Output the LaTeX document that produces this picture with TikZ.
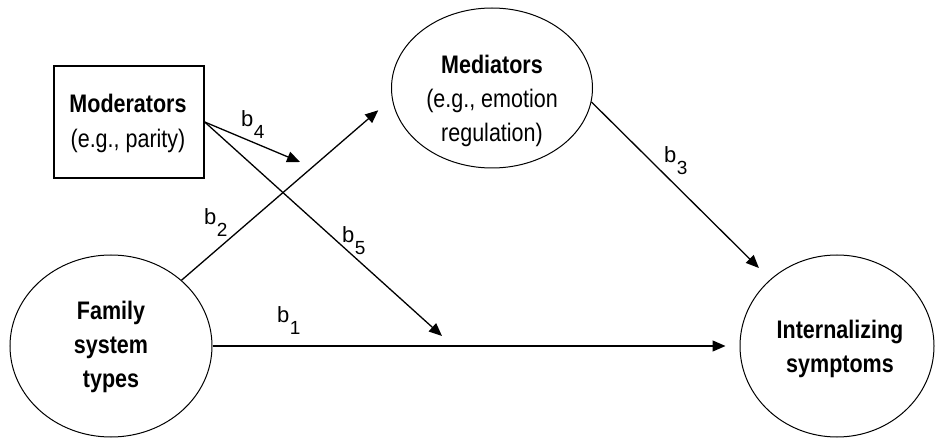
\documentclass[tikz,border=0pt]{standalone}
\usepackage{graphicx}
\usepackage{fontspec}
\setmainfont{Liberation Sans}
\usetikzlibrary{arrows.meta,shapes.geometric}
\newcommand\bsubl[1]{b\kern0.5pt\raisebox{-12pt}{\fontsize{19}{19}\selectfont #1}}
\newcommand\tallt[1]{\scalebox{1}[1.18]{#1}}
\tikzset{
  ell/.style={draw, ellipse, line width=1pt, inner sep=0pt},
  modbox/.style={draw, rectangle, line width=1.4pt, inner sep=0pt},
  lbl/.style={align=center, inner sep=0pt, font=\fontsize{21.5}{34}\selectfont},
  arr/.style={line width=1.3pt, -{Triangle[length=13pt,width=11pt]}},
  coef/.style={anchor=base west, inner sep=0pt, font=\fontsize{22}{22}\selectfont},
}
\begin{document}
\begin{tikzpicture}[x=1pt,y=-1pt]
\useasboundingbox (0,0) rectangle (935,438);
% shapes
\node[ell, minimum width=202pt, minimum height=182pt] (fam) at (111,346) {};
\node[ell, minimum width=194pt, minimum height=182pt] (int) at (837,346) {};
\node[ell, minimum width=201pt, minimum height=160pt] (med) at (492,88) {};
\node[modbox, minimum width=150pt, minimum height=112pt] (mod) at (129,122) {};
% texts
\node[lbl] (famt) at (111,346.5) {\tallt{\textbf{Family}}\\\tallt{\textbf{system}}\\\tallt{\textbf{types}}};
\node[lbl] (intt) at (840,348.5) {\tallt{\textbf{Internalizing}}\\\tallt{\textbf{symptoms}}};
\node[lbl] (medt) at (492,100.5) {\tallt{\textbf{Mediators}}\\\tallt{(e.g., emotion}\\\tallt{regulation)}};
\node[lbl, font=\fontsize{21.5}{35}\selectfont] (modt) at (128,123) {\tallt{\textbf{Moderators}}\\\tallt{(e.g., parity)}};
% free ends
\coordinate (b4end) at (300,162);
\coordinate (b5end) at (442,336);
% connectors
\draw[arr, shorten >=14pt] (fam.east) -- (int.west);
\draw[arr, shorten >=18pt] (fam.43) -- (med.186);
\draw[arr, shorten >=16pt] (med.-8) -- (int.135);
\draw[arr] (mod.east) -- (b4end);
\draw[arr] (mod.east) -- (b5end);
% coefficient labels
\node[coef] (l1) at (277,323) {\bsubl{1}};
\node[coef] (l2) at (204,225) {\bsubl{2}};
\node[coef] (l3) at (664,163) {\bsubl{3}};
\node[coef] (l4) at (241,127) {\bsubl{4}};
\node[coef] (l5) at (342,243) {\bsubl{5}};
\end{tikzpicture}
\end{document}
